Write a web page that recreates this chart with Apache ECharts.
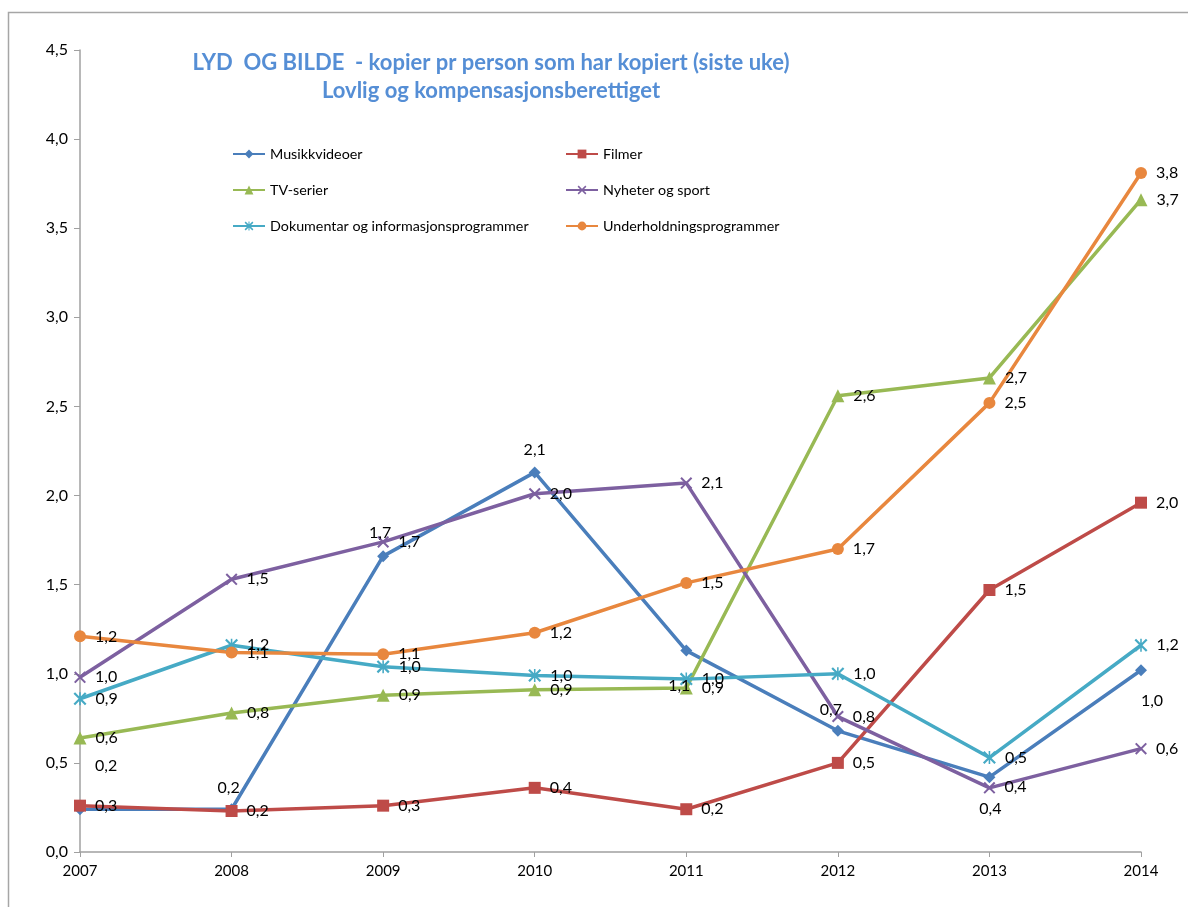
<!DOCTYPE html>
<html>
<head>
<meta charset="utf-8">
<script src="https://cdn.jsdelivr.net/npm/echarts@6/dist/echarts.min.js"></script>
<style>
  html, body { margin: 0; padding: 0; background: #fff; }
  #chart { width: 1188px; height: 907px; }
</style>
</head>
<body>
<div id="chart"></div>
<script>
const years = ['2007', '2008', '2009', '2010', '2011', '2012', '2013', '2014'];

const musikkvideoer = [0.24, 0.24, 1.66, 2.13, 1.13, 0.68, 0.42, 1.02];
const filmer = [0.26, 0.23, 0.26, 0.36, 0.24, 0.50, 1.47, 1.96];
const tvSerier = [0.64, 0.78, 0.88, 0.91, 0.92, 2.56, 2.66, 3.66];
const nyheterOgSport = [0.98, 1.53, 1.74, 2.01, 2.07, 0.76, 0.36, 0.58];
const dokumentar = [0.86, 1.16, 1.04, 0.99, 0.97, 1.00, 0.53, 1.16];
const underholdning = [1.21, 1.12, 1.11, 1.23, 1.51, 1.70, 2.52, 3.81];

const yTicks = [0, 0.5, 1, 1.5, 2, 2.5, 3, 3.5, 4, 4.5];

const FONT = 'Lato, "Open Sans", sans-serif';
const fmt = v => v.toFixed(1).replace('.', ',');

// marker shapes for the cross and star markers
const crossPath = 'path://M0,1.2 L1.2,0 L10,8.8 L8.8,10 Z M8.8,0 L10,1.2 L1.2,10 L0,8.8 Z';
const starPath = crossPath + ' M4.4,0 L5.6,0 L5.6,10 L4.4,10 Z';

// hand placed labels (like in the original sheet)
const musikkLabels = [
  { position: 'right', offset: [0, -43] },
  { position: 'top', offset: [-3, 2] },
  { position: 'top', offset: [-3, 0] },
  { position: 'top', offset: [0, 0] },
  { position: 'bottom', offset: [-7, 12] },
  { position: 'top', offset: [-7, 2] },
  { position: 'right', offset: [0, 10] },
  { position: 'bottom', offset: [11, 8] }
];
const nyheterLabels = [null, null, null, null, null, null, { position: 'bottom', offset: [1, -2] }, null];

function makeSeries(name, data, color, symbol, size, custom) {
  return {
    name: name,
    type: 'line',
    data: data.map((v, i) => {
      const c = custom && custom[i];
      return c ? { value: v, label: c } : v;
    }),
    symbol: symbol,
    symbolSize: size,
    showAllSymbol: true,
    lineStyle: { color: color, width: 3.5 },
    itemStyle: { color: color },
    label: {
      show: true,
      position: 'right',
      distance: 9,
      color: '#000',
      fontSize: 16,
      fontFamily: FONT,
      formatter: p => fmt(p.value)
    },
    emphasis: { disabled: true },
    animation: false
  };
}

const legendCommon = {
  top: 147,
  orient: 'vertical',
  padding: 0,
  itemGap: 22,
  itemWidth: 32,
  itemHeight: 11,
  textStyle: { fontSize: 14.3, fontFamily: FONT, color: '#000' }
};

const chart = echarts.init(document.getElementById('chart'));

chart.setOption({
  backgroundColor: '#fff',
  animation: false,
  title: {
    text: 'LYD  OG BILDE  - kopier pr person som har kopiert (siste uke)\nLovlig og kompensasjonsberettiget',
    left: 486,
    top: 44,
    textAlign: 'center',
    textStyle: {
      color: '#558ED5',
      fontSize: 22,
      fontWeight: 'bold',
      fontFamily: FONT,
      lineHeight: 28
    }
  },
  graphic: [{
    type: 'rect',
    shape: { x: 8.5, y: 12.5, width: 1300, height: 1000 },
    style: { fill: 'none', stroke: '#A6A6A6', lineWidth: 1.5 },
    silent: true
  }],
  legend: [
    Object.assign({ left: 232, data: ['Musikkvideoer', 'TV-serier', 'Dokumentar og informasjonsprogrammer'] }, legendCommon),
    Object.assign({ left: 565, data: ['Filmer', 'Nyheter og sport', 'Underholdningsprogrammer'] }, legendCommon)
  ],
  grid: { left: 80, right: 47, top: 50, bottom: 55 },
  xAxis: {
    type: 'category',
    data: years,
    boundaryGap: false,
    axisLine: { lineStyle: { color: '#A0A0A0', width: 1.5 } },
    axisTick: { show: true, length: 5, lineStyle: { color: '#A0A0A0' } },
    axisLabel: { color: '#000', fontSize: 15, fontFamily: FONT, margin: 12 },
    splitLine: { show: false }
  },
  yAxis: {
    type: 'value',
    min: yTicks[0],
    max: yTicks[yTicks.length - 1],
    interval: 0.5,
    axisLine: { show: true, lineStyle: { color: '#A0A0A0', width: 1.5 } },
    axisTick: { show: true, length: 6, lineStyle: { color: '#A0A0A0' } },
    axisLabel: { color: '#000', fontSize: 16, fontFamily: FONT, margin: 12, formatter: v => fmt(v) },
    splitLine: { show: false }
  },
  series: [
    makeSeries('Musikkvideoer', musikkvideoer, '#4A7EBB', 'diamond', 12, musikkLabels),
    makeSeries('Filmer', filmer, '#BE4B48', 'rect', 12),
    makeSeries('TV-serier', tvSerier, '#98B954', 'triangle', 13),
    makeSeries('Nyheter og sport', nyheterOgSport, '#7D60A0', crossPath, 12, nyheterLabels),
    makeSeries('Dokumentar og informasjonsprogrammer', dokumentar, '#46AAC5', starPath, 13),
    makeSeries('Underholdningsprogrammer', underholdning, '#E8873E', 'circle', 12)
  ]
});
</script>
</body>
</html>
